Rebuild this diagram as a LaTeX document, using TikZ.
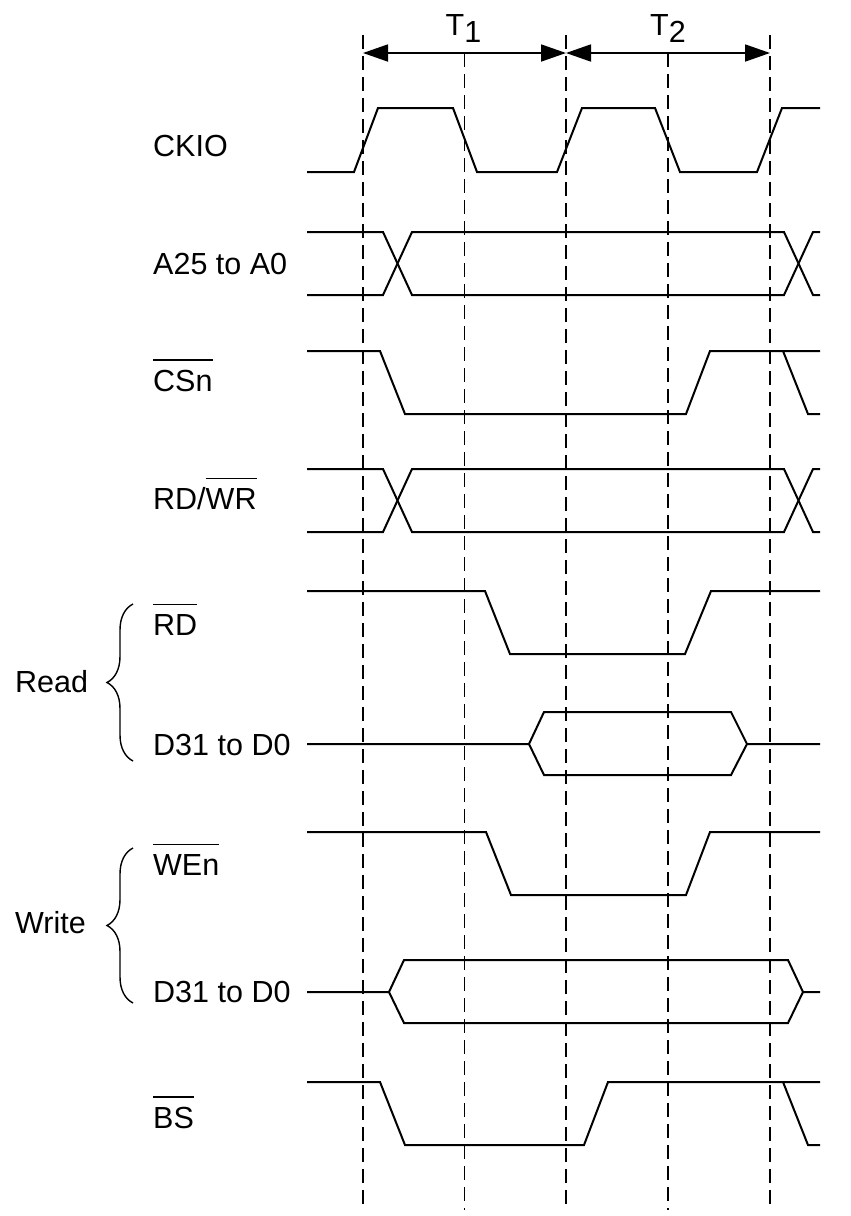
\documentclass[tikz,border=0pt]{standalone}
\usepackage{fontspec}
\setmainfont{Liberation Sans}
\usepackage{tikz}
\usetikzlibrary{arrows.meta, positioning, calc, decorations.pathreplacing}

\newcommand{\ovl}[1]{\vbox{\hrule height 1.3pt\kern 9pt\hbox{#1}}}

\tikzset{
    wave/.style={line width=2pt, line join=miter},
    guide/.style={line width=1.9pt, dash pattern=on 14pt off 7pt},
    period/.style={line width=1.8pt, {Triangle[length=25pt, width=17pt]}-{Triangle[length=25pt, width=17pt]}},
    sig/.style={anchor=base west, inner sep=0pt, font=\fontsize{30.5}{36}\selectfont},
    grp/.style={line width=1.4pt, decorate, decoration={brace, amplitude=26pt}}
}

\begin{document}
\begin{tikzpicture}[x=1pt, y=-1pt]
    \useasboundingbox (0,0) rectangle (851,1216);

    % 虚线
    \draw[guide] (363,35) -- (363,1210);
    \draw[guide] (464.5,53) -- (464.5,1210);
    \draw[guide] (566,35) -- (566,1210);
    \draw[guide] (668,53) -- (668,1210);
    \draw[guide] (770,35) -- (770,1210);

    % 周期 T1, T2
    \coordinate (p0) at (363,53);
    \coordinate (p1) at (566,53);
    \coordinate (p2) at (770,53);
    \draw[period] (p0) -- (p1);
    \draw[period] (p1) -- (p2);
    \node[sig, anchor=base] (t1) at (463.5,35) {T\raisebox{-7pt}{1}};
    \node[sig, anchor=base] (t2) at (668,35) {T\raisebox{-7pt}{2}};

    % 信号名
    \node[sig] (ckio) at (153,156) {CKIO};
    \node[sig] (addr) at (153,274) {A25 to A0};
    \node[sig] (csn) at (153,391) {\ovl{CSn}};
    \node[sig] (rdwr) at (153,509) {RD/\ovl{WR}};
    \node[sig] (rd) at (153,635) {\ovl{RD}};
    \node[sig] (dread) at (153,755) {D31 to D0};
    \node[sig] (wen) at (153,875) {\ovl{WEn}};
    \node[sig] (dwrite) at (153,1002) {D31 to D0};
    \node[sig] (bs) at (153,1128) {\ovl{BS}};

    % 读 / 写 括号
    \node[sig] (read) at (15,692) {Read};
    \node[sig] (write) at (15,933) {Write};
    \draw[grp] (133,761) -- (133,604);
    \draw[grp] (133,1003) -- (133,848);

    % CKIO
    \draw[wave] (307,172) -- (354,172) -- (378,108) -- (453,108) -- (477,172) -- (557,172)
        -- (582,108) -- (655,108) -- (680,172) -- (757,172) -- (782,108) -- (820,108);

    % A25 to A0
    \draw[wave] (307,232) -- (383,232) -- (412,295) -- (784,295) -- (813,232) -- (820,232);
    \draw[wave] (307,295) -- (383,295) -- (412,232) -- (784,232) -- (813,295) -- (820,295);

    % CSn
    \draw[wave] (307,351) -- (380,351) -- (405,414) -- (686,414) -- (710,351) -- (820,351);
    \draw[wave] (783,351) -- (808,414) -- (820,414);

    % RD/WR
    \draw[wave] (307,469) -- (383,469) -- (412,532) -- (784,532) -- (813,469) -- (820,469);
    \draw[wave] (307,532) -- (383,532) -- (412,469) -- (784,469) -- (813,532) -- (820,532);

    % RD
    \draw[wave] (307,591) -- (485,591) -- (510,654) -- (685,654) -- (711,591) -- (820,591);

    % D31 to D0 (读)
    \draw[wave] (307,744) -- (529,744) -- (544,712) -- (731,712) -- (747,744) -- (820,744);
    \draw[wave] (529,744) -- (544,775) -- (731,775) -- (747,744);

    % WEn
    \draw[wave] (307,832) -- (486,832) -- (511,895) -- (686,895) -- (710,832) -- (820,832);

    % D31 to D0 (写)
    \draw[wave] (307,992) -- (389,992) -- (404,960) -- (788,960) -- (803,992) -- (820,992);
    \draw[wave] (389,992) -- (404,1023) -- (788,1023) -- (803,992);

    % BS
    \draw[wave] (307,1082) -- (380,1082) -- (405,1145) -- (584,1145) -- (608,1082) -- (820,1082);
    \draw[wave] (783,1082) -- (808,1145) -- (820,1145);
\end{tikzpicture}
\end{document}
